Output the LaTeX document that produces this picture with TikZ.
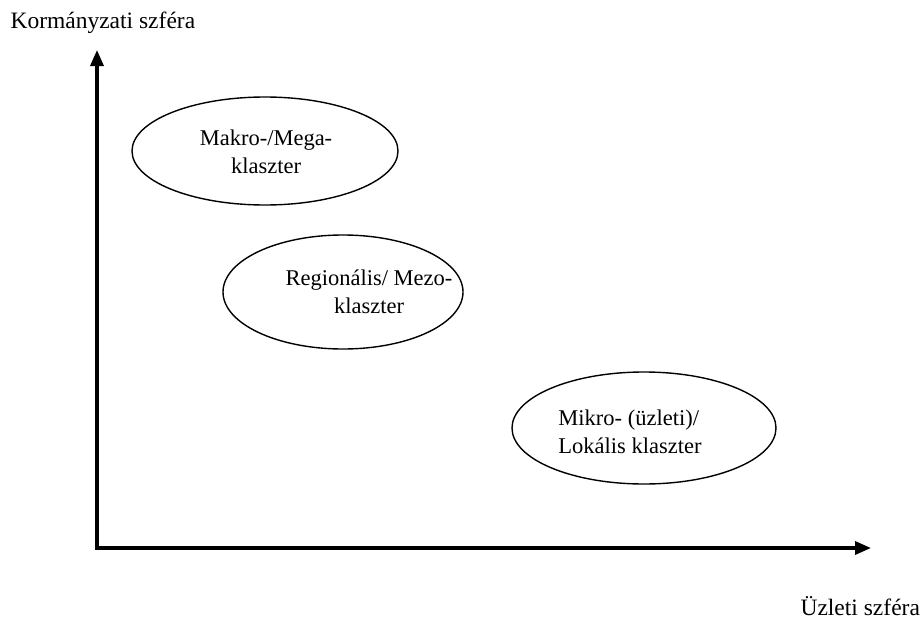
\documentclass[tikz,border=0pt]{standalone}
\usepackage{fontspec}
\setmainfont{Liberation Serif}
\usetikzlibrary{arrows.meta}
\begin{document}
\begin{tikzpicture}[x=1pt,y=-1pt,
  axis/.style={line width=3.4pt,-{Triangle[length=16pt,width=13pt]}},
  cluster/.style={draw,line width=1.4pt},
  clustertext/.style={font=\fontsize{22.5}{28}\selectfont,align=center},
  axislabel/.style={font=\fontsize{23.5}{27}\selectfont,anchor=base west}]
\useasboundingbox (0,0) rectangle (921,621);
% axes
\coordinate (origin) at (97,548);
\coordinate (ytip) at (97,50);
\coordinate (xtip) at (871,548);
\draw[axis] (origin) -- (ytip);
\draw[axis] ([xshift=-1.7pt]origin) -- (xtip);
\node[axislabel] (ylabel) at (7,28) {Kormányzati szféra};
\node[axislabel] (xlabel) at (797,615) {Üzleti szféra};
% clusters
\draw[cluster] (265,151) ellipse [x radius=133, y radius=54];
\node[clustertext] (macro) at (266,152) {Makro-/Mega-\\klaszter};
\draw[cluster] (343,292) ellipse [x radius=120, y radius=57];
\node[clustertext] (meso) at (369,292) {Regionális/ Mezo-\\klaszter};
\draw[cluster] (644,428) ellipse [x radius=132, y radius=56];
\node[clustertext,align=left] (micro) at (630,432) {Mikro- (üzleti)/\\Lokális klaszter};
\end{tikzpicture}
\end{document}
